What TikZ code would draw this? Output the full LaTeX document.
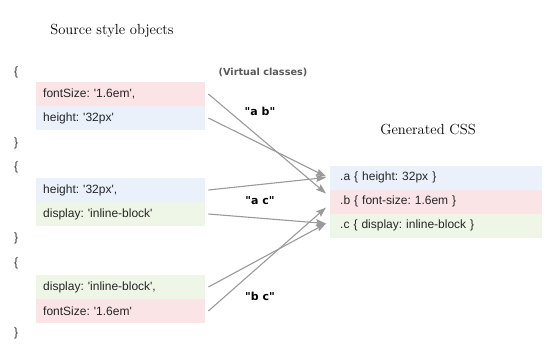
\documentclass[tikz,border=0pt]{standalone}
\usepackage{fontspec}
\usetikzlibrary{arrows.meta}
\newfontfamily\propfont{Liberation Sans}
\newfontfamily\tagfont{DejaVu Sans}
\definecolor{pinkrow}{HTML}{FAE4E5}
\definecolor{bluerow}{HTML}{EAF1FB}
\definecolor{greenrow}{HTML}{EEF7E7}
\definecolor{flowgray}{HTML}{9A9A9A}
\frenchspacing
\begin{document}
\begin{tikzpicture}[x=1pt, y=-1pt,
    prop/.style={anchor=west, inner xsep=7pt, inner ysep=0pt, text width=155pt,
      minimum height=24pt, align=left, text=black!85, font=\propfont\fontsize{12}{14}\selectfont},
    rule/.style={prop, inner xsep=10pt, text width=192pt},
    brace/.style={anchor=west, inner sep=0pt, text=black!80, font=\propfont\fontsize{12}{14}\selectfont},
    heading/.style={inner sep=0pt, font=\fontsize{14.6}{16}\selectfont},
    tag/.style={inner sep=0pt, font=\tagfont\bfseries\fontsize{11}{13}\selectfont},
    flow/.style={draw=flowgray, line width=1.1pt, -{Stealth[length=10pt, width=7pt, inset=1.5pt]}}]
        \useasboundingbox (0,0) rectangle (555,354);

        % Headings
        \node (srctitle) at (112,31) [heading] {Source style objects};
        \node (csstitle) at (428,130) [heading] {Generated CSS};
        \node (virtual) at (263,72) [tag, text=black!65, font=\tagfont\bfseries\fontsize{9.7}{11}\selectfont] {(Virtual classes)};

        % Source objects (top to bottom)
        \node (open1) at (14,72) [brace] {\{};
        \node (fs1) at (36,94) [prop, fill=pinkrow] {fontSize: '1.6em',};
        \node (ht1) at (36,118) [prop, fill=bluerow] {height: '32px'};
        \node (close1) at (14,143) [brace] {\}};

        \node (open2) at (14,167) [brace] {\{};
        \node (ht2) at (36,190) [prop, fill=bluerow] {height: '32px',};
        \node (dp2) at (36,214) [prop, fill=greenrow] {display: 'inline-block'};
        \node (close2) at (14,238) [brace] {\}};

        \node (open3) at (14,263) [brace] {\{};
        \node (dp3) at (36,287) [prop, fill=greenrow] {display: 'inline-block',};
        \node (fs3) at (36,311) [prop, fill=pinkrow] {fontSize: '1.6em'};
        \node (close3) at (14,333) [brace] {\}};

        % Class names
        \node (tagab) at (260,111) [tag] {"a b"};
        \node (tagac) at (260,201) [tag] {"a c"};
        \node (tagbc) at (260,296) [tag] {"b c"};

        % Generated rules
        \node (a) at (330,177.5) [rule, fill=bluerow] {.a \{ height: 32px \}};
        \node (b) at (330,201.5) [rule, fill=pinkrow] {.b \{ font-size: 1.6em \}};
        \node (c) at (330,225.5) [rule, fill=greenrow] {.c \{ display: inline-block \}};

        % Edges (objects to rules)
        \draw[flow] ([xshift=3pt]fs1.east) -- ([shift={(-4,-8)}]b.west);
        \draw[flow] ([xshift=3pt]ht1.east) -- ([shift={(-4,-1)}]a.west);
        \draw[flow] ([xshift=3pt]ht2.east) -- ([shift={(-4,0)}]a.west);
        \draw[flow] ([xshift=3pt]dp2.east) -- ([shift={(-4,-2)}]c.west);
        \draw[flow] ([xshift=3pt]dp3.east) -- ([shift={(-4,-2)}]c.west);
        \draw[flow] ([xshift=3pt]fs3.east) -- ([shift={(-4,6)}]b.west);
      \end{tikzpicture}
\end{document}
